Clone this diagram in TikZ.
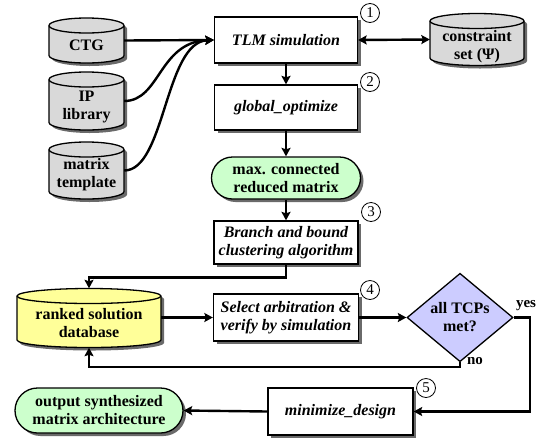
\documentclass[tikz,border=0pt]{standalone}
\usepackage{fontspec}
\setmainfont{Liberation Serif}
\usetikzlibrary{arrows.meta,shapes.geometric,shapes.misc,shadows}
\definecolor{cylgray}{HTML}{D9D9D9}
\definecolor{termgreen}{HTML}{CCFFCC}
\definecolor{dbyellow}{HTML}{FFFF99}
\definecolor{decblue}{HTML}{CCCCFF}
\definecolor{shadowc}{HTML}{6A6A6A}
\tikzset{
  myshadow/.style={drop shadow={shadow xshift=3pt,shadow yshift=-3pt,fill=shadowc,opacity=1}},
  basefont/.style={font=\fontsize{16}{18}\selectfont\bfseries},
  proc/.style={rectangle,draw,line width=1.3pt,fill=white,align=center,inner sep=2pt,
    font=\fontsize{16}{18}\selectfont\bfseries\itshape,myshadow},
  term/.style={rounded rectangle,draw,line width=1.3pt,fill=termgreen,align=center,inner sep=2pt,
    basefont,myshadow},
  decis/.style={diamond,draw,line width=1.3pt,fill=decblue,align=center,inner sep=0pt,
    basefont},
  anchorbox/.style={rectangle,draw=none,inner sep=0pt},
  txt/.style={align=center,inner sep=0pt,basefont},
  lbl/.style={inner sep=0pt,font=\fontsize{15}{15}\selectfont\bfseries},
  tip/.tip={Stealth[length=8.5pt,width=9pt,inset=1.5pt]},
  conn/.style={line width=2.4pt,-tip},
  conn2/.style={line width=2.4pt,tip-tip},
  numc/.style={circle,draw,line width=0.8pt,minimum size=19pt,inner sep=0pt,
    font=\fontsize{15}{15}\selectfont},
}
% #1 name, #2 cx, #3 cy, #4 half width, #5 half height, #6 fill, #7 text shift, #8 text
\newcommand\dbnode[8]{%
  \fill[shadowc] (#2-#4+3,#3-#5+7.5+3) -- (#2-#4+3,#3+#5-7.5+3)
     arc[start angle=180,end angle=360,x radius=#4pt,y radius=7.5pt]
     -- (#2+#4+3,#3-#5+7.5+3)
     arc[start angle=0,end angle=180,x radius=#4pt,y radius=7.5pt] -- cycle;
  \filldraw[fill=#6,line width=1.3pt] (#2-#4,#3-#5+7.5) -- (#2-#4,#3+#5-7.5)
     arc[start angle=180,end angle=360,x radius=#4pt,y radius=7.5pt]
     -- (#2+#4,#3-#5+7.5)
     arc[start angle=0,end angle=180,x radius=#4pt,y radius=7.5pt] -- cycle;
  \draw[line width=1.3pt] (#2-#4,#3-#5+7.5)
     arc[start angle=180,end angle=360,x radius=#4pt,y radius=7.5pt];
  \node[anchorbox,minimum width=2*#4 pt,minimum height=2*#5 pt] (#1) at (#2,#3) {};
  \node[txt] (#1-t) at (#2,#3+#7) {#8};
}
\begin{document}
\begin{tikzpicture}[x=1pt,y=-1pt]
\useasboundingbox (0,0) rectangle (545,437);

% databases
\dbnode{ctg}{86.5}{40.5}{37.5}{22.5}{cylgray}{4.5}{CTG}
\dbnode{ip}{86.5}{101}{37.5}{29}{cylgray}{5.5}{IP\\library}
\dbnode{mt}{86.5}{170.5}{37.5}{28.5}{cylgray}{4}{matrix\\template}
\dbnode{cons}{477}{39.5}{47}{26}{cylgray}{7}{constraint\\set (Ψ)}
\dbnode{ranked}{89}{318}{72}{29.5}{dbyellow}{5.5}{ranked solution\\database}

% process boxes
\node[proc,minimum width=143pt,minimum height=46pt] (tlm) at (286,40) {TLM simulation};
\node[proc,minimum width=143pt,minimum height=45pt] (glob) at (286,107.5) {global\_optimize};
\node[term,minimum width=153pt,minimum height=42pt] (maxc) at (286,178) {max. connected\\reduced matrix};
\node[proc,minimum width=144pt,minimum height=43pt] (branch) at (286,242.5) {Branch and bound\\clustering algorithm};
\node[proc,minimum width=145pt,minimum height=47pt] (sel) at (286,317.5) {Select arbitration \&\\verify by simulation};
\node[decis,minimum width=106pt,minimum height=71pt] (dia) at (460,317.5) {all TCPs\\met?};
\node[proc,minimum width=145pt,minimum height=47pt] (mini) at (340.5,411.5) {minimize\_design};
\node[term,minimum width=172pt,minimum height=45pt] (outp) at (99,410.5) {output synthesized\\matrix architecture};

% step numbers
\node[numc] (n1) at (370,13) {1};
\node[numc] (n2) at (370,82) {2};
\node[numc] (n3) at (371,212) {3};
\node[numc] (n4) at (370,290) {4};
\node[numc] (n5) at (426,388) {5};

% connectors
\draw[conn] (ctg.east) -- (tlm.west);
\draw[conn] (ip.east) .. controls +(36,0) and +(-55,2) .. (tlm.west);
\draw[conn] (mt.east) .. controls +(41,0) and +(-49,2) .. (tlm.west);
\draw[conn2] (tlm.east) -- (cons.west);
\draw[conn] (tlm.south) -- (glob.north);
\draw[conn] (glob.south) -- (maxc.north);
\draw[conn] (maxc.south) -- (branch.north);
\coordinate (bj) at (286,277.5);
\draw[conn] (branch.south) -- (bj) -| (ranked.north);
\draw[conn] (ranked.east |- sel.west) -- (sel.west);
\draw[conn] (sel.east) -- (dia.west);
\coordinate (yj) at (530,317.5);
\draw[conn] (dia.east) -- (yj) |- (mini.east);
\coordinate (nj) at (460,367);
\draw[conn] (dia.south) -- (nj) -| (ranked.south);
\draw[conn] (mini.west) -- (outp.east);

% labels
\node[lbl] (yes) at (526,306) {yes};
\node[lbl] (no) at (475,361) {no};
\end{tikzpicture}
\end{document}
